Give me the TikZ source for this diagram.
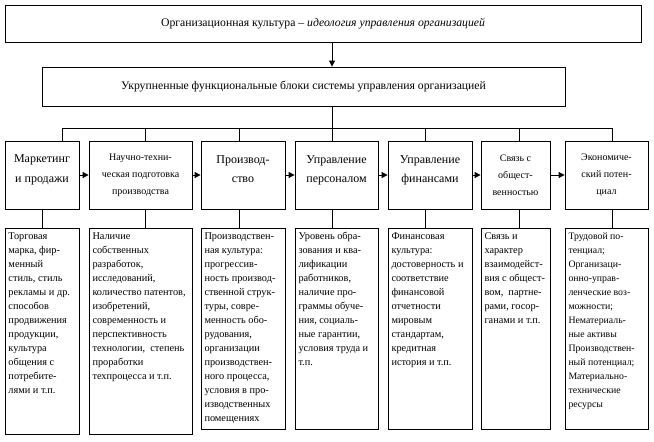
\documentclass[tikz,border=0pt]{standalone}
\usepackage{fontspec}
\setmainfont{Liberation Serif}
\usetikzlibrary{positioning,arrows.meta}

\newcommand{\dtext}[3]{\parbox[c][#1][t]{#2}{\raggedright #3}}

\begin{document}
\begin{tikzpicture}[x=1pt, y=-1pt,
        box/.style={draw=black, line width=0.8pt},
        title/.style={box, inner sep=0pt, font=\fontsize{11.7}{14}\selectfont},
        block/.style={box, align=center, inner sep=1pt, minimum height=68pt, font=\fontsize{12}{19}\selectfont},
        twoline/.style={text depth=12pt},
        detail/.style={box, anchor=north, inner xsep=3.5pt, inner ysep=4pt, font=\fontsize{10.3}{14}\selectfont},
        arr/.style={-{Triangle[length=6pt,width=6pt]}, line width=0.8pt}
    ]
    \useasboundingbox (0,0) rectangle (654,442);

    % Culture and the blocks of the system
    \node[title, minimum width=636pt, minimum height=37pt] (top) at (323,23.5)
        {Организационная культура – \textit{идеология управления организацией}};
    \node[title, minimum width=523pt, minimum height=39pt] (blocks) at (303.5,86.5)
        {Укрупненные функциональные блоки системы управления организацией};

    % Functional blocks
    \node[block, twoline, minimum width=74pt, font=\fontsize{12}{20}\selectfont] (m1) at (42,175) {Маркетинг\\и продажи};
    \node[block, minimum width=103pt, font=\fontsize{10}{17}\selectfont] (m2) at (140.5,175) {Научно-техни-\\ческая подготовка\\производства};
    \node[block, twoline, minimum width=84pt] (m3) at (243,175) {Производ-\\ство};
    \node[block, twoline, minimum width=83pt] (m4) at (336.5,175) {Управление\\персоналом};
    \node[block, twoline, minimum width=84pt] (m5) at (430,175) {Управление\\финансами};
    \node[block, minimum width=69pt, font=\fontsize{10}{17}\selectfont] (m6) at (515.5,175) {Связь с\\общест-\\венностью};
    \node[block, minimum width=83pt, font=\fontsize{10}{17}\selectfont] (m7) at (606.5,175) {Экономиче-\\ский потен-\\циал};

    % Contents of the blocks
    \node[detail] (d1) at (42,228) {\dtext{198pt}{67pt}{Торговая\\марка, фир-\\менный\\стиль, стиль\\рекламы и др.\\способов\\продвижения\\продукции,\\культура\\общения с\\потребите-\\лями и т.п.}};
    \node[detail] (d2) at (140.5,228) {\dtext{198pt}{96pt}{Наличие\\собственных\\разработок,\\исследований,\\количество патентов,\\изобретений,\\современность и\\перспективность\\технологии,~ степень\\проработки\\техпроцесса и т.п.}};
    \node[detail] (d3) at (243,228) {\dtext{193pt}{77pt}{Производствен-\\ная культура:\\прогрессив-\\ность производ-\\ственной струк-\\туры, совре-\\менность обо-\\рудования,\\организации\\производствен-\\ного процесса,\\условия в про-\\изводственных\\помещениях}};
    \node[detail] (d4) at (336.5,228) {\dtext{193pt}{76pt}{Уровень обра-\\зования и ква-\\лификации\\работников,\\наличие про-\\граммы обуче-\\ния, социаль-\\ные гарантии,\\условия труда и\\т.п.}};
    \node[detail] (d5) at (430,228) {\dtext{193pt}{77pt}{Финансовая\\культура:\\достоверность и\\соответствие\\финансовой\\отчетности\\мировым\\стандартам,\\кредитная\\история и т.п.}};
    \node[detail] (d6) at (515.5,228) {\dtext{193pt}{62pt}{Связь и\\характер\\взаимодейст-\\вия с общест-\\вом,~ партне-\\рами, госор-\\ганами и т.п.}};
    \node[detail, font=\fontsize{9.8}{14}\selectfont] (d7) at (606.5,228) {\dtext{193pt}{76pt}{Трудовой по-\\тенциал;\\Организаци-\\онно-управ-\\ленческие воз-\\можности;\\Нематериаль-\\ные активы\\Производствен-\\ный потенциал;\\Материально-\\технические\\ресурсы}};

    % Bus points
    \coordinate (x1) at (62,128);
    \coordinate (x2) at (145,128);
    \coordinate (x3) at (239,128);
    \coordinate (x4) at (332,128);
    \coordinate (x5) at (425,128);
    \coordinate (x6) at (519,128);
    \coordinate (x7) at (612,128);

    \draw[arr] (top.south -| x4) -- (blocks.north -| x4);
    \draw[box] (blocks.south -| x4) -- (x4);
    \draw[box] (x1) -- (x7);
    \foreach \i in {1,...,7}
        \draw[box] (x\i) -- (m\i.north -| x\i);
    \foreach \i/\j in {1/2,2/3,3/4,4/5,5/6,6/7}
        \draw[arr] (m\i) -- (m\j);
    \draw[box] (m1) -- (d1);
    \foreach \i in {2,...,7}
        \draw[box] (m\i.south -| x\i) -- (d\i.north -| x\i);
\end{tikzpicture}
\end{document}
